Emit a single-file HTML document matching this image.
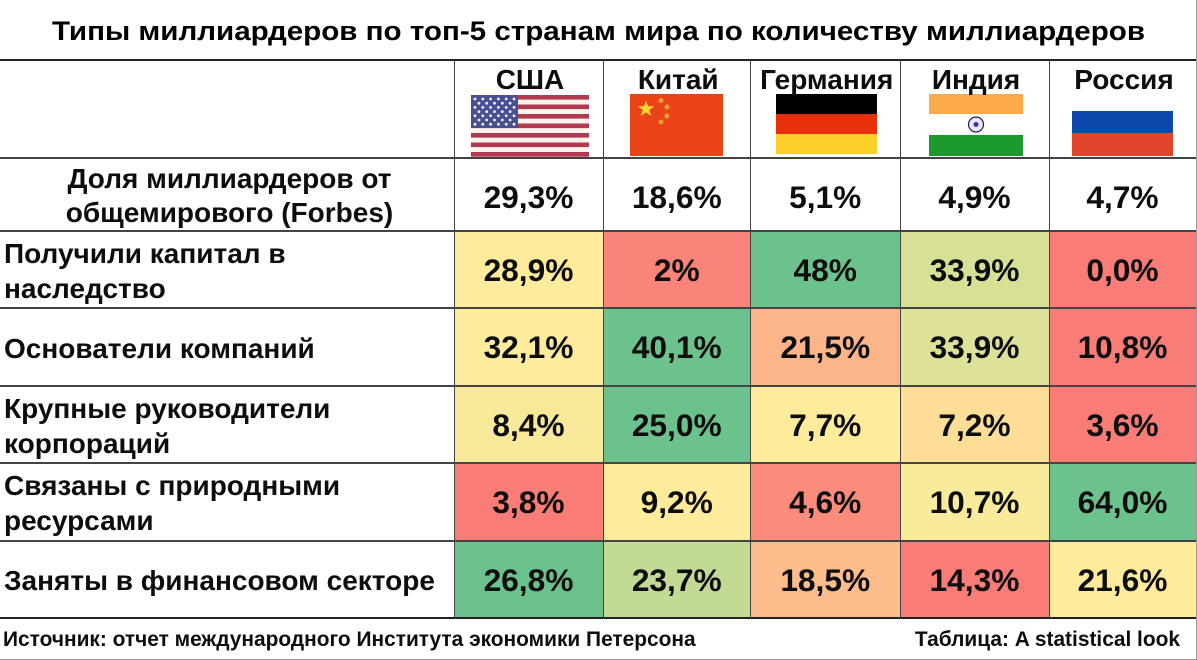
<!DOCTYPE html>
<html lang="ru">
<head>
<meta charset="utf-8">
<title>Типы миллиардеров</title>
<style>
html,body{margin:0;padding:0;background:#fff}
#page{position:relative;width:1197px;height:660px;overflow:hidden;background:#fff;color:#0d0d0d;font-family:"Liberation Sans","Noto Sans CJK SC",sans-serif;font-weight:bold}
#page div{position:absolute;white-space:nowrap}
.line{background:#444}
.cell{box-sizing:border-box}
.val{font-size:31.7px;line-height:40px;text-align:center}
.lab{font-size:28px;line-height:35px;left:4px}
.cn{font-size:28px;line-height:32px;text-align:center;top:64px}
svg{position:absolute}
</style>
</head>
<body>
<div id="page">
<div style="left:0;width:1197px;top:15px;text-align:center;font-size:27px;line-height:32px;color:#000;transform:scaleX(1.095);transform-origin:598.5px 0">Типы миллиардеров по топ-5 странам мира по количеству миллиардеров</div>

<svg id="us" style="left:471px;top:95px" width="118" height="62" viewBox="0 0 118 62"></svg>
<svg style="left:630px;top:94px" width="93" height="62" viewBox="0 0 93 62">
<rect width="93" height="62" fill="#ea4317"/>
<polygon points="16,6.500 18,12.300 24.400,12.300 19.200,16 21.200,22 16,18.400 10.800,22 12.800,16 7.600,12.300 14,12.300" fill="#f7d730"/>
<circle cx="31" cy="6.500" r="2.500" fill="#f0a030"/><circle cx="37" cy="13" r="2.500" fill="#f0a030"/><circle cx="37" cy="22" r="2.500" fill="#f0a030"/><circle cx="31" cy="28" r="2.500" fill="#f0a030"/>
</svg>
<svg style="left:776px;top:94px" width="101" height="60" viewBox="0 0 101 60">
<rect width="101" height="20" fill="#000"/><rect y="20" width="101" height="20" fill="#e8300a"/><rect y="40" width="101" height="20" fill="#fdd12a"/>
</svg>
<svg style="left:929px;top:94px" width="94" height="62" viewBox="0 0 94 62">
<rect width="94" height="20" fill="#fdaa4a"/><rect y="41" width="94" height="21" fill="#1c9a2c"/>
<circle cx="47" cy="30.500" r="7.500" fill="#e8e8f8" stroke="#1a1a6a" stroke-width="1.200"/><circle cx="47" cy="30.500" r="2.500" fill="#34349a"/>
</svg>
<svg style="left:1072px;top:111px" width="101" height="45" viewBox="0 0 101 45">
<rect width="101" height="22" fill="#0e48ad"/><rect y="22" width="101" height="23" fill="#e0452b"/>
</svg>

<div style="left:3px;top:626px;font-size:20.9px;line-height:28px">Источник: отчет международного Института экономики Петерсона</div>
<div style="right:17px;top:626px;font-size:20.9px;line-height:28px">Таблица: A statistical look</div>
</div>
<script>
const countries = ["США", "Китай", "Германия", "Индия", "Россия"];
const shareLabel = ["Доля миллиардеров от", "общемирового (Forbes)"];
const shares = [29.3, 18.6, 5.1, 4.9, 4.7];
const shareDecimals = [1, 1, 1, 1, 1];
const rowLabels = [
  ["Получили капитал в", "наследство"],
  ["Основатели компаний"],
  ["Крупные руководители", "корпораций"],
  ["Связаны с природными", "ресурсами"],
  ["Заняты в финансовом секторе"]
];
const inherited = [28.9, 2, 48, 33.9, 0.0];
const founders = [32.1, 40.1, 21.5, 33.9, 10.8];
const executives = [8.4, 25.0, 7.7, 7.2, 3.6];
const resources = [3.8, 9.2, 4.6, 10.7, 64.0];
const finance = [26.8, 23.7, 18.5, 14.3, 21.6];
const inheritedDecimals = [1, 0, 0, 1, 1];

const page = document.getElementById('page');
const colEdge = i => [454, 603, 750.5, 900, 1049, 1196][i];
const rowTop = i => 231 + i * 77.4;
const HEAD_TOP = 158;

function fmt(v, d) { return v.toFixed(d).replace('.', ',') + '%'; }
function mix(a, b, t) { return a.map((c, i) => Math.round(c + (b[i] - c) * t)); }
// Three-colour scale per row: min red, median yellow, max green
function scale(v, arr) {
  const s = arr.slice().sort((x, y) => x - y);
  const min = s[0], med = s[2], max = s[4];
  const red = [250, 124, 118], yel = [254, 235, 155], grn = [108, 194, 140];
  let c;
  if (v <= med) c = mix(red, yel, med === min ? 1 : (v - min) / (med - min));
  else c = mix(yel, grn, (v - med) / (max - med));
  return 'rgb(' + c.join(',') + ')';
}
function box(left, top, w, h, cls) {
  const d = document.createElement('div');
  d.style.cssText = 'left:' + left + 'px;top:' + top + 'px;width:' + w + 'px;height:' + h + 'px';
  if (cls) d.className = cls;
  return d;
}

// US flag artwork
const us = document.getElementById('us');
let usMarkup = '';
for (let i = 0; i < 13; i++) usMarkup += '<rect y="' + (i * 4.75) + '" width="118" height="4.75" fill="' + (i % 2 ? '#fdf3ee' : '#b23a50') + '"/>';
usMarkup += '<rect width="47" height="33" fill="#4a4f90"/>';
for (let r = 0; r < 7; r++) for (let c = 0; c < (r % 2 ? 5 : 6); c++)
  usMarkup += '<circle cx="' + (4 + c * 7.8 + (r % 2 ? 3.9 : 0)) + '" cy="' + (4 + r * 4.2) + '" r="1.4" fill="#eef"/>';
us.innerHTML = usMarkup;

// Header cells
countries.forEach((name, i) => {
  const d = box(colEdge(i) + 1.5, 0, colEdge(i + 1) - colEdge(i), 32, 'cn');
  d.style.top = '64px';
  d.textContent = name;
  
  
  page.appendChild(d);
});

// Share row
shareLabel.forEach((text, i) => {
  const d = box(0, 161 + i * 34, 459, 35, 'lab');
  d.style.left = '0';
  d.style.textAlign = 'center';
  d.textContent = text;
  
  
  page.appendChild(d);
});
shares.forEach((v, i) => {
  const d = box(colEdge(i), HEAD_TOP, colEdge(i + 1) - colEdge(i), 73, 'val');
  d.style.lineHeight = '78px';
  d.textContent = fmt(v, shareDecimals[i]);
  
  
  page.appendChild(d);
});

// Heatmap cells and row labels
const matrix = [inherited, founders, executives, resources, finance];
matrix.forEach((row, r) => {
  const top = rowTop(r), h = rowTop(r + 1) - top;
  row.forEach((v, c) => {
    const d = box(colEdge(c), top, colEdge(c + 1) - colEdge(c), h, 'cell val');
    d.style.background = scale(v, row);
    d.style.lineHeight = (h + 2) + 'px';
    d.textContent = fmt(v, r === 0 ? inheritedDecimals[c] : 1);
    
    
    page.appendChild(d);
  });
  const lines = rowLabels[r];
  lines.forEach((text, k) => {
    const y = top + h / 2 - lines.length * 17.5 + k * 35 + 1.5;
    const d = box(4, y, 445, 35, 'lab');
    d.textContent = text;
    
    
    page.appendChild(d);
  });
});

// Grid lines
[60, 158, 231, 308, 386, 463, 541, 618].forEach((y, i) => {
  const l = box(0, y - 1, 1197, (i === 0 || i === 7) ? 2 : 1.5, 'line');
  if (i === 0 || i === 7) l.style.background = '#222';
  
  
  page.appendChild(l);
});
[0, 1, 2, 3, 4].forEach(i => {
  const l = box(colEdge(i) - .5, 60, 1, 558, 'line');
  
  
  page.appendChild(l);
});
const bottomEdge = box(0, 659, 1197, 1);
bottomEdge.style.background = '#999';


page.appendChild(bottomEdge);
const rightEdge = box(1196, 0, 1, 660);
rightEdge.style.background = '#999';


page.appendChild(rightEdge);
</script>
</body>
</html>
